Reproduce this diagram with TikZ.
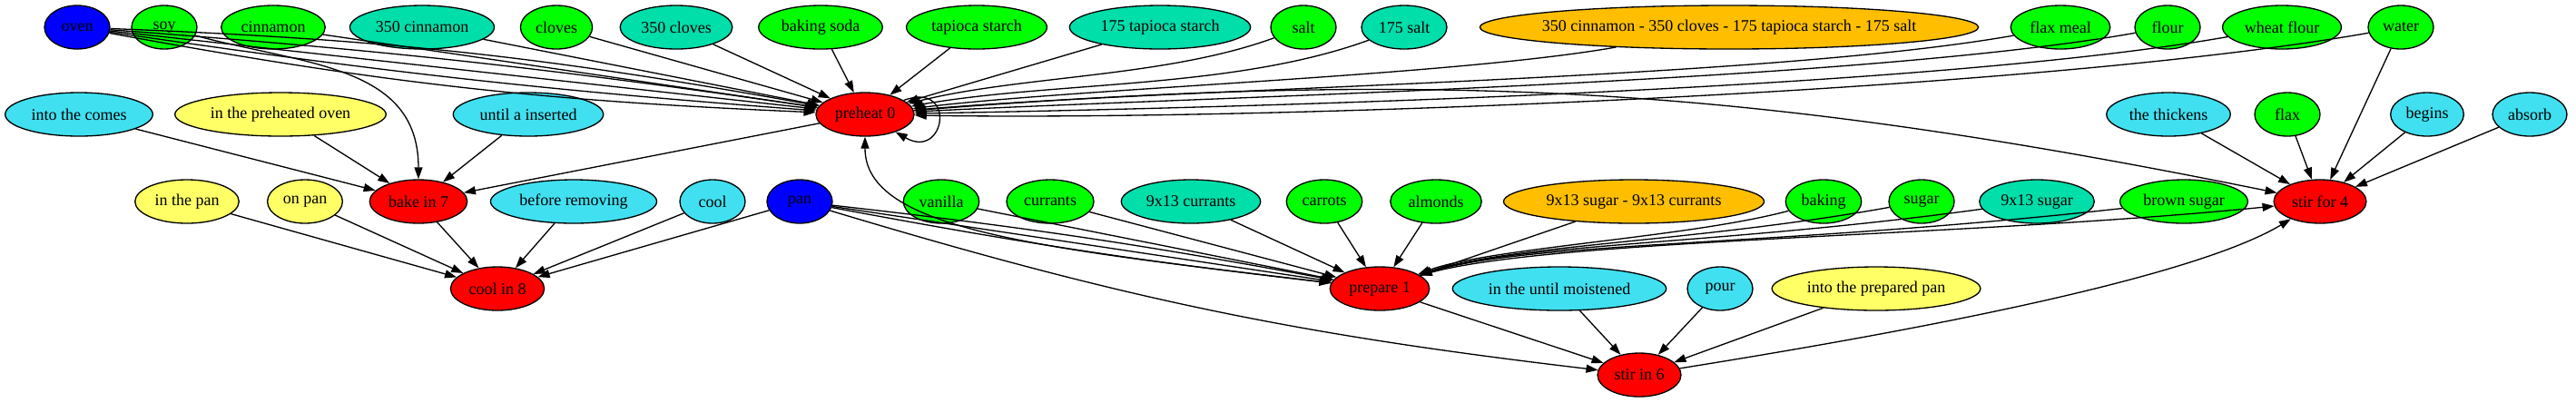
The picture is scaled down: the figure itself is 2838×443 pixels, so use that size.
\documentclass[tikz,border=0pt]{standalone}
\usepackage{fontspec}
\setmainfont{Liberation Serif}
\usetikzlibrary{shapes.geometric,arrows.meta}
\definecolor{stepred}{RGB}{255,0,0}
\definecolor{toolblue}{RGB}{0,0,255}
\definecolor{ingrgreen}{RGB}{0,255,0}
\definecolor{qtyteal}{RGB}{0,222,170}
\definecolor{combogold}{RGB}{255,191,0}
\definecolor{modcyan}{RGB}{64,224,240}
\definecolor{placeyellow}{RGB}{255,255,102}
\begin{document}
\begin{tikzpicture}
[
    x=0.25pt,y=0.25pt,
    bubble/.style={ellipse,draw=black,line width=0.33pt,minimum width=18pt,minimum height=12pt,inner xsep=1.25pt,inner ysep=0.5pt,font=\fontsize{4.5}{5.25}\selectfont},
    stepnode/.style={bubble,fill=stepred},
    tool/.style={bubble,fill=toolblue},
    ingr/.style={bubble,fill=ingrgreen},
    qty/.style={bubble,fill=qtyteal},
    combo/.style={bubble,fill=combogold},
    modif/.style={bubble,fill=modcyan},
    location/.style={bubble,fill=placeyellow},
    arr/.style={-{Triangle[length=3.25pt,width=2.25pt]},line width=0.33pt},
]
\useasboundingbox (0,0) rectangle (2838,443);

% top row
\node (oven) at (85,413) [tool] {oven};
\node (soy) at (181,413) [ingr] {soy};
\node (cinnamon) at (301,413) [ingr] {cinnamon};
\node (cinnamonqty) at (465,413) [qty] {350 cinnamon};
\node (cloves) at (613,413) [ingr] {cloves};
\node (clovesqty) at (745,413) [qty] {350 cloves};
\node (bakingsoda) at (904,413) [ingr] {baking soda};
\node (tapioca) at (1076,413) [ingr] {tapioca starch};
\node (tapiocaqty) at (1278,413) [qty] {175 tapioca starch};
\node (salt) at (1436,413) [ingr] {salt};
\node (saltqty) at (1547,413) [qty] {175 salt};
\node (combotop) at (1905,413) [combo,inner xsep=-3pt] {350 cinnamon - 350 cloves - 175 tapioca starch - 175 salt};
\node (flaxmeal) at (2270,413) [ingr] {flax meal};
\node (flour) at (2388,413) [ingr] {flour};
\node (wheatflour) at (2514,413) [ingr] {wheat flour};
\node (water) at (2645,413) [ingr] {water};

% second row
\node (comes) at (87,317) [modif] {into the comes};
\node (preheated) at (309,317) [location] {in the preheated oven};
\node (inserted) at (582,317) [modif] {until a inserted};
\node (preheat) at (953,317) [stepnode] {preheat 0};
\node (thickens) at (2389,317) [modif] {the thickens};
\node (flax) at (2520,317) [ingr] {flax};
\node (begins) at (2674,317) [modif] {begins};
\node (absorb) at (2787,317) [modif] {absorb};

% third row
\node (inpan) at (206,221) [location] {in the pan};
\node (onpan) at (336,221) [location] {on pan};
\node (bake) at (461,221) [stepnode] {bake in 7};
\node (removing) at (632,221) [modif] {before removing};
\node (cool) at (785,221) [modif] {cool};
\node (pan) at (881,221) [tool] {pan};
\node (vanilla) at (1037,221) [ingr] {vanilla};
\node (currants) at (1157,221) [ingr] {currants};
\node (currantsqty) at (1312,221) [qty] {9x13 currants};
\node (carrots) at (1459,221) [ingr] {carrots};
\node (almonds) at (1582,221) [ingr] {almonds};
\node (combomid) at (1800,221) [combo] {9x13 sugar - 9x13 currants};
\node (baking) at (2009,221) [ingr] {baking};
\node (sugar) at (2117,221) [ingr] {sugar};
\node (sugarqty) at (2244,221) [qty] {9x13 sugar};
\node (brownsugar) at (2406,221) [ingr] {brown sugar};
\node (stirfour) at (2556,221) [stepnode] {stir for 4};

% fourth and fifth row
\node (coolin) at (548,125) [stepnode] {cool in 8};
\node (prepare) at (1520,125) [stepnode] {prepare 1};
\node (moistened) at (1718,125) [modif] {in the until moistened};
\node (pour) at (1895,125) [modif] {pour};
\node (prepan) at (2067,125) [location] {into the prepared pan};
\node (stirsix) at (1806,30) [stepnode] {stir in 6};

% into preheat 0
\draw[arr] (oven) to[bend left=4] (preheat);
\draw[arr] (oven) to[bend left=2] (preheat);
\draw[arr] (oven) -- (preheat);
\draw[arr] (oven) to[bend right=2] (preheat);
\draw[arr] (oven) to[bend right=4] (preheat);
\draw[arr] (cinnamon) -- (preheat);
\draw[arr] (cinnamonqty) -- (preheat);
\draw[arr] (cloves) -- (preheat);
\draw[arr] (clovesqty) -- (preheat);
\draw[arr] (bakingsoda) -- (preheat);
\draw[arr] (tapioca) -- (preheat);
\draw[arr] (tapiocaqty) -- (preheat);
\draw[arr] (salt) to[out=200,in=14,looseness=0.8] (preheat);
\draw[arr] (saltqty) to[out=200,in=10,looseness=0.8] (preheat);
\draw[arr] (combotop) to[out=190,in=7,looseness=0.6] (preheat);
\draw[arr] (flaxmeal) to[out=190,in=5,looseness=0.6] (preheat);
\draw[arr] (flour) to[out=190,in=3,looseness=0.6] (preheat);
\draw[arr] (wheatflour) to[out=190,in=1,looseness=0.6] (preheat);
\draw[arr] (water) to[out=190,in=-1,looseness=0.6] (preheat);
\draw[arr] (preheat) to[out=20,in=-30,looseness=4.5] (preheat);
\draw[arr] (prepare) .. controls +(-380,45) and +(0,-127) .. (preheat);

% into bake in 7
\draw[arr] (soy) to[out=-15,in=90,looseness=1.1] (bake);
\draw[arr] (comes) -- (bake);
\draw[arr] (preheated) -- (bake);
\draw[arr] (inserted) -- (bake);
\draw[arr] (preheat) -- (bake);

% into cool in 8
\draw[arr] (inpan) -- (coolin);
\draw[arr] (onpan) -- (coolin);
\draw[arr] (bake) -- (coolin);
\draw[arr] (removing) -- (coolin);
\draw[arr] (cool) -- (coolin);
\draw[arr] (pan) -- (coolin);

% into prepare 1
\draw[arr] (pan) to[bend left=2] (prepare);
\draw[arr] (pan) -- (prepare);
\draw[arr] (pan) to[bend right=2] (prepare);
\draw[arr] (vanilla) -- (prepare);
\draw[arr] (currants) -- (prepare);
\draw[arr] (currantsqty) -- (prepare);
\draw[arr] (carrots) -- (prepare);
\draw[arr] (almonds) -- (prepare);
\draw[arr] (combomid) -- (prepare);
\draw[arr] (baking) .. controls +(-150,-40) and +(120,45) .. (prepare);
\draw[arr] (sugar) .. controls +(-250,-45) and +(140,48) .. (prepare);
\draw[arr] (sugarqty) .. controls +(-350,-48) and +(150,50) .. (prepare);
\draw[arr] (brownsugar) .. controls +(-450,-50) and +(160,52) .. (prepare);

% into stir for 4
\draw[arr] (preheat) to[bend left=8] (stirfour);
\draw[arr] (thickens) -- (stirfour);
\draw[arr] (flax) -- (stirfour);
\draw[arr] (water) -- (stirfour);
\draw[arr] (begins) -- (stirfour);
\draw[arr] (absorb) -- (stirfour);
\draw[arr] (prepare) .. controls +(170,55) and +(-400,-40) .. (stirfour);
\draw[arr] (stirsix) .. controls +(250,40) and +(-150,-90) .. (stirfour);

% into stir in 6
\draw[arr] (pan) to[bend right=5] (stirsix);
\draw[arr] (prepare) -- (stirsix);
\draw[arr] (moistened) -- (stirsix);
\draw[arr] (pour) -- (stirsix);
\draw[arr] (prepan) -- (stirsix);
\end{tikzpicture}
\end{document}
